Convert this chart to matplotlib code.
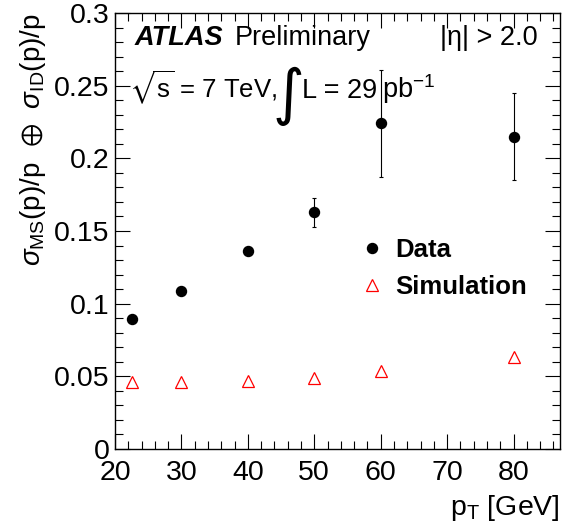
import numpy as np
import matplotlib
matplotlib.use("Agg")
import matplotlib.pyplot as plt
from matplotlib.ticker import MultipleLocator

plt.rcParams['font.family'] = ['Liberation Sans', 'DejaVu Sans']
plt.rcParams['mathtext.fontset'] = 'custom'
plt.rcParams['mathtext.rm'] = 'Liberation Sans'
plt.rcParams['mathtext.it'] = 'Liberation Sans:italic'
plt.rcParams['mathtext.bf'] = 'Liberation Sans:bold'
plt.rcParams['mathtext.fallback'] = 'stixsans'

#------------------------------------
# Data
#------------------------------------

pt_data = [22.5, 30., 40., 50., 60., 80.]
res_data = [0.0895, 0.109, 0.136, 0.163, 0.224, 0.215]
err_data = [0.002, 0.002, 0.002, 0.010, 0.037, 0.030]

pt_sim = [22.5, 30., 40., 50., 60., 80.]
res_sim = [0.0462, 0.0462, 0.0470, 0.0487, 0.0537, 0.0630]

#------------------------------------
# Plot
#------------------------------------

fig = plt.figure(figsize=(5.71, 5.27), dpi=100)
ax = fig.add_axes([115/571., 1-449/527., 445/571., 436/527.])

ax.errorbar(pt_data, res_data, yerr=err_data, fmt='none', ecolor='black',
            elinewidth=0.8, capsize=1.6, capthick=0.8, zorder=3)
ax.plot(pt_data, res_data, 'o', color='black', markersize=7.2,
        label='Data', zorder=4)
ax.plot(pt_sim, res_sim, '^', markersize=8.5, markerfacecolor='none',
        markeredgecolor='red', markeredgewidth=0.9, label='Simulation',
        linestyle='none')

ax.set_xlim(20, 87)
ax.set_ylim(0, 0.3)

ax.xaxis.set_major_locator(MultipleLocator(10))
ax.xaxis.set_minor_locator(MultipleLocator(2))
ax.yaxis.set_minor_locator(MultipleLocator(0.01))
ax.set_yticks([0, 0.05, 0.1, 0.15, 0.2, 0.25, 0.3])
ax.set_yticklabels(['0', '0.05', '0.1', '0.15', '0.2', '0.25', '0.3'])

ax.tick_params(which='both', direction='in', top=True, right=True,
               labelsize=20.5, width=0.8)
ax.tick_params(which='major', length=11)
ax.tick_params(which='minor', length=6)
ax.tick_params(axis='x', pad=8)
ax.tick_params(axis='y', pad=4)
for sp in ax.spines.values():
    sp.set_linewidth(1.0)

ax.set_xlabel(r'p$_{\mathrm{T}}$ [GeV]', fontsize=20.5, loc='right', labelpad=5)
ax.set_ylabel(r'$\sigma_{\mathrm{MS}}$(p)/p  $\oplus$  $\sigma_{\mathrm{ID}}$(p)/p',
              fontsize=20, loc='top', labelpad=4)

# legend
leg = ax.legend(loc='center left', bbox_to_anchor=(0.554, 0.414), frameon=False,
                prop={'weight': 'bold', 'size': 18.5}, handlelength=0.8,
                handletextpad=0.5, labelspacing=0.5, borderpad=0.,
                borderaxespad=0.)

# labels
def axpos(px, py):
    return (px - 115) / 445., (449 - py) / 436.

fs = 19.5
x, y = axpos(135, 45)
ax.text(x, y, 'ATLAS', transform=ax.transAxes, fontsize=fs,
        fontweight='bold', fontstyle='italic', va='baseline')
x, y = axpos(235, 45)
ax.text(x, y, 'Preliminary', transform=ax.transAxes, fontsize=fs, va='baseline')
x, y = axpos(440, 45)
ax.text(x, y, '|η| > 2.0', transform=ax.transAxes, fontsize=fs, va='baseline')
x, y = axpos(129, 98)
ax.text(x, y, r'$\sqrt{\mathrm{s}}$ = 7 TeV,', transform=ax.transAxes,
        fontsize=18.5, va='baseline')
x, y = axpos(273, 96)
ax.text(x, y, '∫', transform=ax.transAxes, fontsize=44, va='center',
        family=['DejaVu Sans'])
x, y = axpos(302, 98)
ax.text(x, y, 'L = 29', transform=ax.transAxes, fontsize=fs, va='baseline')
x, y = axpos(382, 98)
ax.text(x, y, r'pb$^{\mathrm{-1}}$', transform=ax.transAxes, fontsize=fs,
        va='baseline')

fig.savefig('out.png', dpi=100)
